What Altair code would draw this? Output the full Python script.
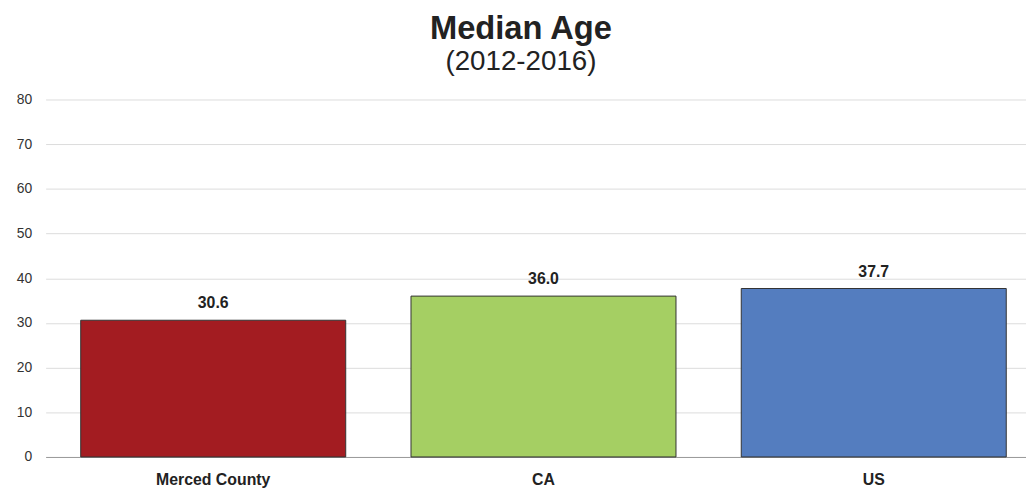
import altair as alt
import pandas as pd

regions = ["Merced County", "CA", "US"]
median_age = [30.6, 36.0, 37.7]
colors = ["#A31C21", "#A5CF63", "#547DBF"]

df = pd.DataFrame({"region": regions, "age": median_age, "color": colors})
font = "Liberation Sans"

base = alt.Chart(df).encode(
    x=alt.X("region:N", sort=regions, title=None,
            scale=alt.Scale(paddingInner=0.1976, paddingOuter=0.083, align=0.64),
            axis=alt.Axis(labelAngle=0, labelFontWeight="bold", labelFontSize=16,
                          labelColor="#222", labelFont=font, ticks=False,
                          domainColor="#999", labelPadding=15)),
    y=alt.Y("age:Q", title=None,
            scale=alt.Scale(domain=[0, 80]),
            axis=alt.Axis(values=list(range(0, 81, 10)), labelFontSize=14,
                          labelColor="#333", labelFont=font, domain=False, ticks=False,
                          gridColor="#dcdcdc", labelPadding=14)),
)

bars = base.mark_bar(stroke="#333", strokeWidth=1).encode(
    color=alt.Color("color:N", scale=None)
)
labels = base.mark_text(dy=-17, fontWeight="bold", fontSize=16, font=font, color="#222").encode(
    text=alt.Text("age:Q", format=".1f")
)

chart = (bars + labels).properties(
    width=990, height=361,
    padding={"top": 3, "left": 8, "right": 0, "bottom": 2},
    title=alt.Title("Median Age", subtitle="(2012-2016)", fontSize=33, fontWeight="bold",
                    font="Liberation Sans", subtitleFont="Liberation Sans", subtitleFontSize=28,
                    color="#222", subtitleColor="#222", anchor="middle", offset=17,
                    subtitlePadding=2, dx=-15),
).configure_view(stroke=None)

chart.save("out.html", embed_options={"renderer": "svg", "actions": False})
